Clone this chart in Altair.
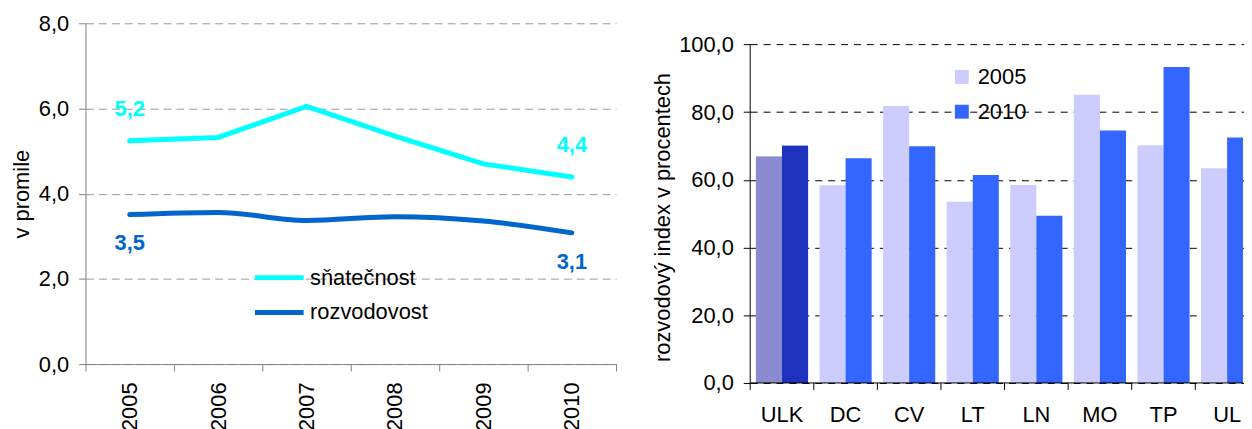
import altair as alt
import pandas as pd

# ---- data: left chart (per mille) ----
years = ["2005", "2006", "2007", "2008", "2009", "2010"]
snatecnost = [5.24, 5.32, 6.05, 5.35, 4.70, 4.39]
rozvodovost = [3.51, 3.56, 3.37, 3.46, 3.36, 3.08]
series_names = ["sňatečnost", "rozvodovost"]
series_colors = ["#00FFFF", "#0066CC"]
labeled_years = ["2005", "2010"]
y_ticks_left = [0, 2, 4, 6, 8]

# ---- data: right chart (divorce index, %) ----
regions = ["ULK", "DC", "CV", "LT", "LN", "MO", "TP", "UL"]
index_2005 = [66.9, 58.4, 81.8, 53.5, 58.5, 85.1, 70.2, 63.4]
index_2010 = [70.1, 66.4, 69.9, 61.4, 49.4, 74.6, 93.3, 72.5]
bar_years = ["2005", "2010"]
bar_colors = ["#CCCCFF", "#3366FF"]
ulk_colors = ["#8A8AD0", "#1E32BE"]
y_ticks_right = [0, 20, 40, 60, 80, 100]

FONT = "Liberation Sans"
FS = 22
comma_fmt = "replace(format(datum.value, '.1f'), '.', ',')"

line_df = pd.DataFrame(
    {"year": years * 2,
     "series": [series_names[0]] * len(years) + [series_names[1]] * len(years),
     "value": snatecnost + rozvodovost}
)

bar_df = pd.DataFrame(
    {"region": regions * 2,
     "year": [bar_years[0]] * len(regions) + [bar_years[1]] * len(regions),
     "value": index_2005 + index_2010}
)
region_df = pd.DataFrame({"region": regions})

# ---------------- left chart ----------------
LW, LH = 534, 343
xl = alt.X(
    "year:N", sort=years, bandPosition=0.5,
    scale=alt.Scale(type="band", paddingInner=0, paddingOuter=0),
    axis=alt.Axis(title=None, labelAngle=270, tickBand="extent", tickSize=7,
                  labelPadding=11, domainColor="#808080", tickColor="#808080",
                  labelFontSize=FS, labelFont=FONT, labelColor="black", grid=False),
)
yl = alt.Y(
    "value:Q",
    scale=alt.Scale(domain=[0, 8], nice=False),
    axis=alt.Axis(title="v promile", values=y_ticks_left, labelExpr=comma_fmt,
                  grid=True, gridColor="#999999", gridDash=[8, 5], gridWidth=1,
                  domainColor="#808080", tickColor="#808080", tickSize=7,
                  labelPadding=10, labelFontSize=FS, labelFont=FONT, labelColor="black",
                  titleFontSize=FS, titleFont=FONT, titleFontWeight="normal",
                  titleColor="black", titleX=-52),
)
color_l = alt.Color(
    "series:N",
    scale=alt.Scale(domain=series_names, range=series_colors),
    legend=alt.Legend(orient="none", legendX=168, legendY=246, title=None,
                      symbolType="stroke", symbolStrokeWidth=5, symbolSize=2401,
                      clipHeight=20, rowPadding=13, labelFontSize=FS, labelFont=FONT,
                      labelColor="black", labelOffset=4, padding=0),
)

base_l = alt.Chart(line_df)
line_s = base_l.transform_filter(alt.datum.series == series_names[0]).mark_line(
    strokeWidth=5, strokeCap="round", interpolate="linear",
    point=alt.OverlayMarkDef(shape="diamond", size=30, filled=True),
).encode(x=xl, y=yl, color=color_l)
line_r = base_l.transform_filter(alt.datum.series == series_names[1]).mark_line(
    strokeWidth=5, strokeCap="round", interpolate="monotone",
).encode(x=xl, y=yl, color=color_l)

lbl_base = base_l.transform_filter(
    alt.FieldOneOfPredicate(field="year", oneOf=labeled_years)
).transform_calculate(label="replace(format(datum.value, '.1f'), '.', ',')")
txt_s = lbl_base.transform_filter(alt.datum.series == series_names[0]).mark_text(
    font=FONT, fontSize=FS, fontWeight="bold", dy=-32
).encode(x=xl, y=yl, text="label:N", color=color_l)
txt_r = lbl_base.transform_filter(alt.datum.series == series_names[1]).mark_text(
    font=FONT, fontSize=FS, fontWeight="bold", dy=29
).encode(x=xl, y=yl, text="label:N", color=color_l)

left = alt.layer(line_r, line_s, txt_s, txt_r).properties(width=LW, height=LH)

# ---------------- right chart ----------------
RW, RH = 496, 362
RANGE_W = 512
P_IN, P_OUT = 0.18, 0.09
step = RANGE_W / len(regions)
xr_scale = alt.Scale(range=[0, RANGE_W], paddingInner=P_IN, paddingOuter=P_OUT)
xr = alt.X("region:N", sort=regions, scale=xr_scale, axis=None)
yr = alt.Y(
    "value:Q",
    scale=alt.Scale(domain=[0, 106.25], nice=False),
    axis=alt.Axis(title="rozvodový index v procentech", values=y_ticks_right,
                  labelExpr=comma_fmt, grid=True, gridColor="black", gridDash=[7, 6],
                  gridWidth=1, domain=False, tickColor="black", tickSize=7,
                  labelPadding=10, labelFontSize=FS, labelFont=FONT, labelColor="black",
                  titleFontSize=FS, titleFont=FONT, titleFontWeight="normal",
                  titleColor="black", titleX=-76, titleY=195),
)
xo = alt.XOffset("year:N", sort=bar_years, scale=alt.Scale(paddingInner=0, paddingOuter=0))
color_r = alt.Color(
    "year:N",
    scale=alt.Scale(domain=bar_years, range=bar_colors),
    legend=alt.Legend(orient="none", legendX=202, legendY=43, title=None,
                      symbolType="square", symbolSize=196, symbolStrokeWidth=0,
                      rowPadding=13, labelFontSize=FS, labelFont=FONT,
                      labelColor="black", labelOffset=5, padding=0),
)

bars = alt.Chart(bar_df).mark_bar(clip=True).encode(x=xr, xOffset=xo, y=yr, color=color_r)
ulk = alt.Chart(bar_df).transform_filter(alt.datum.region == regions[0]).mark_bar().encode(
    x=xr, xOffset=xo, y=yr,
    fill=alt.condition(alt.datum.year == bar_years[0], alt.value(ulk_colors[0]),
                       alt.value(ulk_colors[1])),
)
y_axis_line = alt.Chart(pd.DataFrame({"a": [0]})).mark_rule(color="black").encode(
    x=alt.value(0), y=alt.datum(y_ticks_right[0]), y2=alt.datum(y_ticks_right[-1])
)
x_axis_line = alt.Chart(pd.DataFrame({"a": [0]})).mark_rule(color="black").encode(
    x=alt.value(0), x2=alt.value(RW), y=alt.datum(y_ticks_right[0])
)
# category boundary ticks (midway in the gaps between bar groups)
x_ticks = alt.Chart(region_df).mark_rule(color="black", xOffset=-(P_IN / 2) * step).encode(
    x=alt.X("region:N", sort=regions, scale=xr_scale, axis=None, bandPosition=0),
    y=alt.value(RH), y2=alt.value(RH + 7),
)
# category labels under the axis
x_labels = alt.Chart(region_df).mark_text(
    font=FONT, fontSize=FS, color="black", baseline="alphabetic", dy=39
).encode(
    x=alt.X("region:N", sort=regions, scale=xr_scale, axis=None, bandPosition=0.5),
    y=alt.datum(y_ticks_right[0]), text="region:N",
)

right = alt.layer(bars, ulk, y_axis_line, x_axis_line, x_ticks, x_labels).properties(
    width=RW, height=RH)

chart = alt.hconcat(left, right, spacing=35).resolve_scale(
    color="independent", x="independent", y="independent"
).properties(
    padding={"left": 3, "top": 3, "right": 0, "bottom": 0}
).configure_view(stroke=None)

chart.save("out.html", embed_options={"renderer": "svg", "actions": False})
